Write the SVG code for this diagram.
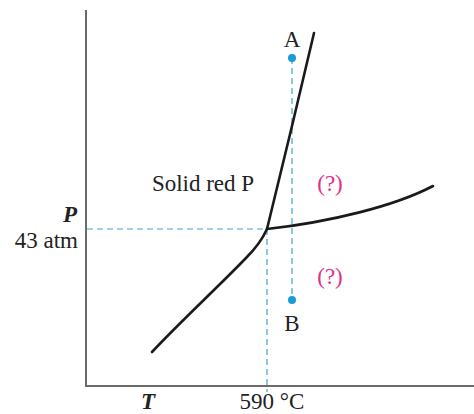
<svg xmlns="http://www.w3.org/2000/svg" width="474" height="414" viewBox="0 0 474 414">
<style>
.axis{stroke:#6b6b6b;stroke-width:2;fill:none}
.curve{stroke:#1a1a1a;stroke-width:2.6;fill:none;stroke-linecap:round}
.dash{stroke:#3aa6c4;stroke-width:1.2;stroke-dasharray:6 4;fill:none}
.dot{fill:#1a9ad6}
.t{font-family:"Liberation Serif",serif;font-size:23px;fill:#222}
.q{font-family:"Liberation Serif",serif;font-size:23px;fill:#e0308a}
.i{font-style:italic;font-weight:bold}
</style>
<rect width="474" height="414" fill="#fff"/>
<g id="axes">
<line class="axis" x1="86" y1="10" x2="86" y2="387"/>
<line class="axis" x1="85" y1="386" x2="474" y2="386"/>
</g>
<g id="connectors">
<line class="dash" x1="87" y1="229" x2="267" y2="229"/>
<line class="dash" x1="267" y1="229" x2="267" y2="392"/>
<line class="dash" x1="292" y1="58" x2="292" y2="300"/>
<path class="curve" d="M267,229 L292,126 L314,33"/>
<path class="curve" d="M267,229 C263,238 258,246 246,258 C215,290 180,322 152,352"/>
<path class="curve" d="M267,229 C330,222 395,206 433,186"/>
</g>
<g id="pointA"><circle class="dot" cx="292" cy="58" r="4"/><text class="t" x="292" y="47" text-anchor="middle">A</text></g>
<g id="pointB"><circle class="dot" cx="292" cy="300" r="4"/><text class="t" x="292" y="331" text-anchor="middle">B</text></g>
<g id="solid"><text class="t" x="203" y="191" text-anchor="middle">Solid red P</text></g>
<g id="q1"><text class="q" x="330" y="191" text-anchor="middle">(?)</text></g>
<g id="q2"><text class="q" x="330" y="284" text-anchor="middle">(?)</text></g>
<g id="ylabel"><text class="t i" x="77" y="222" text-anchor="end">P</text><text class="t" x="78" y="248" text-anchor="end">43 atm</text></g>
<g id="xlabel"><text class="t i" x="148" y="409" text-anchor="middle">T</text><text class="t" x="272" y="409" text-anchor="middle">590 °C</text></g>
</svg>
